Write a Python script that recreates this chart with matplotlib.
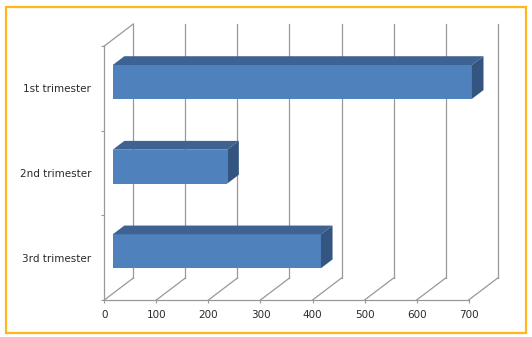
import matplotlib
matplotlib.use("Agg")
import matplotlib.pyplot as plt
from matplotlib.patches import Polygon, Rectangle

categories = ["3rd trimester", "2nd trimester", "1st trimester"]
values = [400, 220, 690]
xticks = [0, 100, 200, 300, 400, 500, 600, 700]

W, H = 532, 337
fig = plt.figure(figsize=(W / 100, H / 100), dpi=100)
fig.patch.set_facecolor("white")

# frame border
fig.add_artist(Rectangle((6 / W, 4.5 / H), (526 - 6) / W, (332 - 6) / H, transform=fig.transFigure,
                         fill=False, edgecolor="#FFB71C", linewidth=1.6))

left, right, top, bottom = 104.3, 468.7, 46, 300
ax = fig.add_axes([left / W, 1 - bottom / H, (right - left) / W, (bottom - top) / H])
ax.set_xlim(0, 700)
ax.set_ylim(0, 3)
for s in ax.spines.values():
    s.set_visible(False)
ax.patch.set_visible(False)

DX = 29 / ((right - left) / 700)   # depth offset in data units (x)
DY = 22 / ((bottom - top) / 3)     # depth offset in data units (y)
grid_c = "#989898"
lw = 0.9

# back wall gridlines and floor diagonals
for t in xticks:
    ax.plot([t + DX, t + DX], [DY, 3 + DY], color=grid_c, lw=lw, clip_on=False, zorder=1)
    ax.plot([t, t + DX], [0, DY], color=grid_c, lw=lw, clip_on=False, zorder=1)
# left wall top diagonal
ax.plot([0, DX], [3, 3 + DY], color=grid_c, lw=lw, clip_on=False, zorder=1)
# front axes lines
ax.plot([0, 0], [0, 3], color=grid_c, lw=lw, clip_on=False, zorder=1)
ax.plot([0, 700], [0, 0], color=grid_c, lw=lw, clip_on=False, zorder=1)

# bars
f, b = 0.29, 0.69
h = 0.2
front_c, top_c, side_c = "#4F81BD", "#3E6392", "#34557F"
for i, v in enumerate(values):
    yc = i + 0.5
    y0, y1 = yc - h, yc + h
    front = Polygon([(f * DX, y0 + f * DY), (v + f * DX, y0 + f * DY),
                     (v + f * DX, y1 + f * DY), (f * DX, y1 + f * DY)],
                    closed=True, facecolor=front_c, edgecolor="none", clip_on=False, zorder=3)
    topf = Polygon([(f * DX, y1 + f * DY), (v + f * DX, y1 + f * DY),
                    (v + b * DX, y1 + b * DY), (b * DX, y1 + b * DY)],
                   closed=True, facecolor=top_c, edgecolor="none", clip_on=False, zorder=3)
    side = Polygon([(v + f * DX, y0 + f * DY), (v + f * DX, y1 + f * DY),
                    (v + b * DX, y1 + b * DY), (v + b * DX, y0 + b * DY)],
                   closed=True, facecolor=side_c, edgecolor="none", clip_on=False, zorder=3)
    for p in (front, topf, side):
        ax.add_patch(p)

# ticks
ax.set_xticks(xticks)
ax.set_xticklabels([str(t) for t in xticks])
ax.tick_params(axis="x", direction="out", length=2.2, width=0.8, color=grid_c,
               pad=5.0, labelsize=7.5, labelcolor="#2a2a2a")
ax.set_yticks([0, 1, 2, 3])
ax.set_yticklabels([])
ax.tick_params(axis="y", which="major", direction="out", length=2.2, width=0.8, color=grid_c)
ax.set_yticks([0.5, 1.5, 2.5], minor=True)
ax.set_yticklabels(categories, minor=True)
ax.tick_params(axis="y", which="minor", length=0, pad=9.5, labelsize=7.5, labelcolor="#2a2a2a")

fig.savefig("out.png", dpi=100, facecolor="white")
